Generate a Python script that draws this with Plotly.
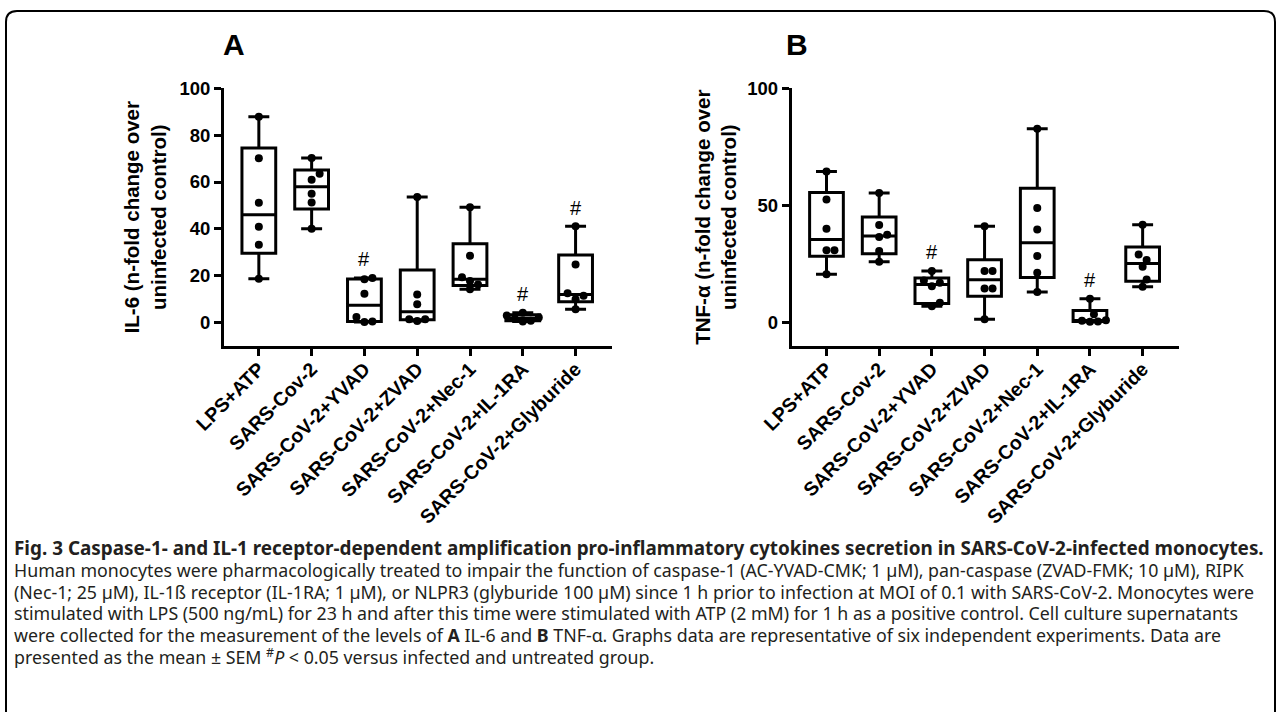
import numpy as np
import plotly.graph_objects as go

categories = ["LPS+ATP", "SARS-Cov-2", "SARS-CoV-2+YVAD", "SARS-CoV-2+ZVAD",
              "SARS-CoV-2+Nec-1", "SARS-CoV-2+IL-1RA", "SARS-CoV-2+Glyburide"]

# Panel A: IL-6 (n-fold change over uninfected control), six experiments per group
il6_lps_atp = [18.7, 33.2, 40.9, 51.1, 70.1, 87.9]
il6_sars = [40.1, 51.3, 55.0, 61.0, 63.5, 70.2]
il6_yvad = [0.2, 0.5, 2.4, 12.3, 18.5, 19.0]
il6_zvad = [0.7, 1.4, 1.4, 7.8, 12.0, 53.6]
il6_nec1 = [14.2, 16.3, 17.7, 19.3, 28.5, 49.2]
il6_il1ra = [0.5, 0.8, 1.5, 2.2, 3.0, 4.2]
il6_glyb = [5.7, 10.0, 11.5, 12.5, 24.8, 41.1]
il6_sig = [False, False, True, False, False, True, True]

# Panel B: TNF-alpha (n-fold change over uninfected control)
tnf_lps_atp = [20.6, 30.9, 30.9, 40.1, 52.5, 64.5]
tnf_sars = [26.0, 30.5, 36.5, 37.5, 41.6, 55.3]
tnf_yvad = [7.0, 8.5, 15.5, 17.0, 18.0, 22.0]
tnf_zvad = [1.4, 14.5, 14.5, 22.0, 22.0, 41.1]
tnf_nec1 = [13.0, 21.3, 28.4, 39.7, 48.9, 82.7]
tnf_il1ra = [0.3, 0.5, 0.8, 1.0, 3.5, 10.2]
tnf_glyb = [15.3, 18.4, 23.8, 26.7, 29.1, 41.8]
tnf_sig = [False, False, True, False, False, True, False]

il6_ticks = [0, 20, 40, 60, 80, 100]
tnf_ticks = [0, 50, 100]

il6_groups = [il6_lps_atp, il6_sars, il6_yvad, il6_zvad, il6_nec1, il6_il1ra, il6_glyb]
tnf_groups = [tnf_lps_atp, tnf_sars, tnf_yvad, tnf_zvad, tnf_nec1, tnf_il1ra, tnf_glyb]

W, H = 1282, 712
YR = [-10, 100]
XR = [-0.66, 6.69]
DOM_A = [224 / W, 612 / W]
DOM_B = [791.7 / W, 1179 / W]
DOM_Y = [1 - 346 / H, 1 - 88.3 / H]
PLOT_H = 346 - 88.3
PX_PER_UNIT = PLOT_H / (YR[1] - YR[0])
PX_PER_CAT = (612 - 224) / (XR[1] - XR[0])
DIAM = 8.0

def swarm(vals):
    """Deterministic beeswarm offsets (category units) so dots don't overlap."""
    placed = []
    order = np.argsort(vals)
    res = [0.0] * len(vals)
    cands = [0.0]
    for k in range(1, 8):
        cands += [k * 4.0, -k * 4.0]
    for idx in order:
        ypx = vals[idx] * PX_PER_UNIT
        for c in cands:
            ok = all((c - px) ** 2 + (ypx - py) ** 2 >= (DIAM * 0.95) ** 2 for px, py in placed)
            if ok:
                placed.append((c, ypx))
                res[idx] = c / PX_PER_CAT
                break
    return res

fig = go.Figure()

FONT = "Liberation Sans, Arial, sans-serif"

def add_panel(groups, sig, xa, ya):
    for i, pts in enumerate(groups):
        q1, med, q3 = np.percentile(pts, [25, 50, 75], method="weibull")
        fig.add_trace(go.Box(
            x=[i], q1=[q1], median=[med], q3=[q3],
            lowerfence=[min(pts)], upperfence=[max(pts)],
            width=0.64, whiskerwidth=0.62,
            line=dict(color="black", width=3), fillcolor="white",
            boxpoints=False, showlegend=False, hoverinfo="skip",
            xaxis=xa, yaxis=ya))
    for i, pts in enumerate(groups):
        offs = swarm(pts)
        fig.add_trace(go.Scatter(
            x=[i + o for o in offs], y=pts, mode="markers",
            marker=dict(color="black", size=DIAM),
            showlegend=False, hoverinfo="skip", xaxis=xa, yaxis=ya))
    for i, pts in enumerate(groups):
        if sig[i]:
            fig.add_annotation(x=i, y=max(pts) + 8, text="#", showarrow=False,
                               xref=xa, yref=ya, yanchor="middle",
                               font=dict(family=FONT, size=20, color="black"))

add_panel(il6_groups, il6_sig, "x", "y")
add_panel(tnf_groups, tnf_sig, "x2", "y2")

xaxis_common = dict(range=XR, tickvals=list(range(len(categories))), ticktext=categories,
                    tickangle=-45, ticks="outside", ticklen=7, tickwidth=3, tickcolor="black",
                    showline=True, linewidth=3, linecolor="black", showgrid=False, zeroline=False,
                    automargin=False, ticklabelstandoff=-6,
                    tickfont=dict(family=FONT, size=19.5, color="black", weight="bold"))
yaxis_common = dict(range=YR, ticks="outside", ticklen=7, tickwidth=3, tickcolor="black",
                    showline=True, linewidth=3, linecolor="black", showgrid=False, zeroline=False,
                    automargin=False,
                    tickfont=dict(family=FONT, size=18.5, color="black", weight="bold"),
                    domain=DOM_Y)

fig.update_layout(
    width=W, height=H, margin=dict(l=0, r=0, t=0, b=0, autoexpand=False),
    paper_bgcolor="white", plot_bgcolor="white",
    xaxis=dict(domain=DOM_A, anchor="y", **xaxis_common),
    yaxis=dict(anchor="x", tickvals=il6_ticks,
               title=dict(text="IL-6 (n-fold change over<br>uninfected control)", standoff=8,
                          font=dict(family=FONT, size=20.5, color="black", weight="bold")),
               **yaxis_common),
    xaxis2=dict(domain=DOM_B, anchor="y2", **xaxis_common),
    yaxis2=dict(anchor="x2", tickvals=tnf_ticks,
                title=dict(text="TNF-α (n-fold change over<br>uninfected control)", standoff=5,
                           font=dict(family=FONT, size=20.5, color="black", weight="bold")),
                **yaxis_common),
)

# panel letters
for txt, xp in [("A", 234), ("B", 797)]:
    fig.add_annotation(x=xp / W, y=1 - 44 / H, xref="paper", yref="paper", text=txt,
                       showarrow=False, xanchor="center", yanchor="middle",
                       font=dict(family=FONT, size=30, color="black", weight="bold"))

# border
fig.add_shape(type="path", xref="paper", yref="paper",
              path=f"M {6/W},0 L {6/W},{1-22/H} Q {6/W},{1-11/H} {17/W},{1-11/H} "
                   f"L {(W-18)/W},{1-11/H} Q {(W-7)/W},{1-11/H} {(W-7)/W},{1-22/H} L {(W-7)/W},0",
              line=dict(color="black", width=2))

CAP_FONT = "Noto Sans, Open Sans, sans-serif"
CAP_COLOR = "#231f20"
caption_title = ("Fig. 3 Caspase-1- and IL-1 receptor-dependent amplification pro-inflammatory "
                 "cytokines secretion in SARS-CoV-2-infected monocytes.")
caption_lines = [
    "Human monocytes were pharmacologically treated to impair the function of caspase-1 (AC-YVAD-CMK; 1 µM), pan-caspase (ZVAD-FMK; 10 µM), RIPK",
    "(Nec-1; 25 µM), IL-1ß receptor (IL-1RA; 1 µM), or NLPR3 (glyburide 100 µM) since 1 h prior to infection at MOI of 0.1 with SARS-CoV-2. Monocytes were",
    "stimulated with LPS (500 ng/mL) for 23 h and after this time were stimulated with ATP (2 mM) for 1 h as a positive control. Cell culture supernatants",
    "were collected for the measurement of the levels of <b>A</b> IL-6 and <b>B</b> TNF-α. Graphs data are representative of six independent experiments. Data are",
    "presented as the mean ± SEM <sup>#</sup><i>P</i> < 0.05 versus infected and untreated group.",
]
fig.add_annotation(x=12 / W, y=1 - 548 / H, xref="paper", yref="paper", text=f"<b>{caption_title}</b>",
                   showarrow=False, xanchor="left", yanchor="middle",
                   font=dict(family=CAP_FONT, size=18.9, color=CAP_COLOR))
for k, line in enumerate(caption_lines):
    fig.add_annotation(x=12 / W, y=1 - (570 + k * 21.7) / H, xref="paper", yref="paper", text=line,
                       showarrow=False, xanchor="left", yanchor="middle",
                       font=dict(family=CAP_FONT, size=17.8, color=CAP_COLOR))

fig.write_html("out.html", config={"displayModeBar": False},
               post_script="document.body.style.margin='0';document.body.style.overflow='hidden';")
